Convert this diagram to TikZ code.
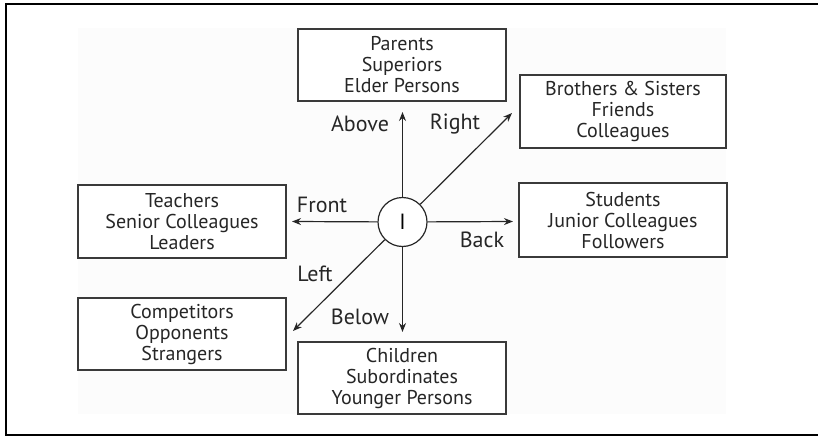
\documentclass[tikz,border=0pt]{standalone}
\usepackage{fontspec}
\setmainfont{PT Sans}
\usetikzlibrary{arrows.meta}
\definecolor{boxline}{HTML}{3A3A3A}
\definecolor{bgfill}{HTML}{FCFCFC}
\tikzset{
  relbox/.style={draw=boxline, line width=1.3pt, fill=white, minimum width=208pt, minimum height=72pt, align=center, inner sep=0pt, font=\fontsize{20}{21}\selectfont, text=black!85},
  dirlabel/.style={font=\fontsize{22}{22}\selectfont, text=black!85, inner sep=0pt},
  relarrow/.style={draw=black!85, line width=1.2pt, -{Stealth[length=9pt,width=7pt]}},
  selfnode/.style={circle, draw=black!85, line width=1.2pt, fill=white, minimum size=49pt, inner sep=0pt, font=\fontsize{22}{22}\selectfont}
}
\begin{document}
\begin{tikzpicture}[x=1pt,y=-1pt]
\useasboundingbox (0,0) rectangle (818,436);
\fill[bgfill] (78,28) rectangle (726,414);
\draw[line width=2pt, black] (818,4.5) -- (6,4.5) -- (6,434.5) -- (818,434.5);

\node[relbox] (parents) at (402,65) {Parents\\Superiors\\Elder Persons};
\node[relbox, minimum width=206pt, minimum height=73pt] (siblings) at (623,111.5) {Brothers \& Sisters\\Friends\\Colleagues};
\node[relbox, minimum height=73pt] (teachers) at (182,221.5) {Teachers\\Senior Colleagues\\Leaders};
\node[relbox, minimum height=74pt] (students) at (623,220) {Students\\Junior Colleagues\\Followers};
\node[relbox] (competitors) at (182,334) {Competitors\\Opponents\\Strangers};
\node[relbox] (children) at (402,378) {Children\\Subordinates\\Younger Persons};

\node[selfnode] (self) at (402.5,222) {I};

\coordinate (tipN) at (402.5,112);
\coordinate (tipNE) at (512,113);
\coordinate (tipW) at (292,221.5);
\coordinate (tipE) at (513,221.5);
\coordinate (tipS) at (402.5,332);
\coordinate (tipSW) at (293,331);

\draw[relarrow] (self) -- (tipN);
\draw[relarrow] (self) -- (tipNE);
\draw[relarrow] (self) -- (tipW);
\draw[relarrow] (self) -- (tipE);
\draw[relarrow] (self) -- (tipS);
\draw[relarrow] (self) -- (tipSW);

\node[dirlabel] (above) at (360,124) {Above};
\node[dirlabel] (right) at (455,124) {Right};
\node[dirlabel] (front) at (322,205) {Front};
\node[dirlabel] (back) at (482,240) {Back};
\node[dirlabel] (left) at (315,274) {Left};
\node[dirlabel] (below) at (360,317) {Below};
\end{tikzpicture}
\end{document}
